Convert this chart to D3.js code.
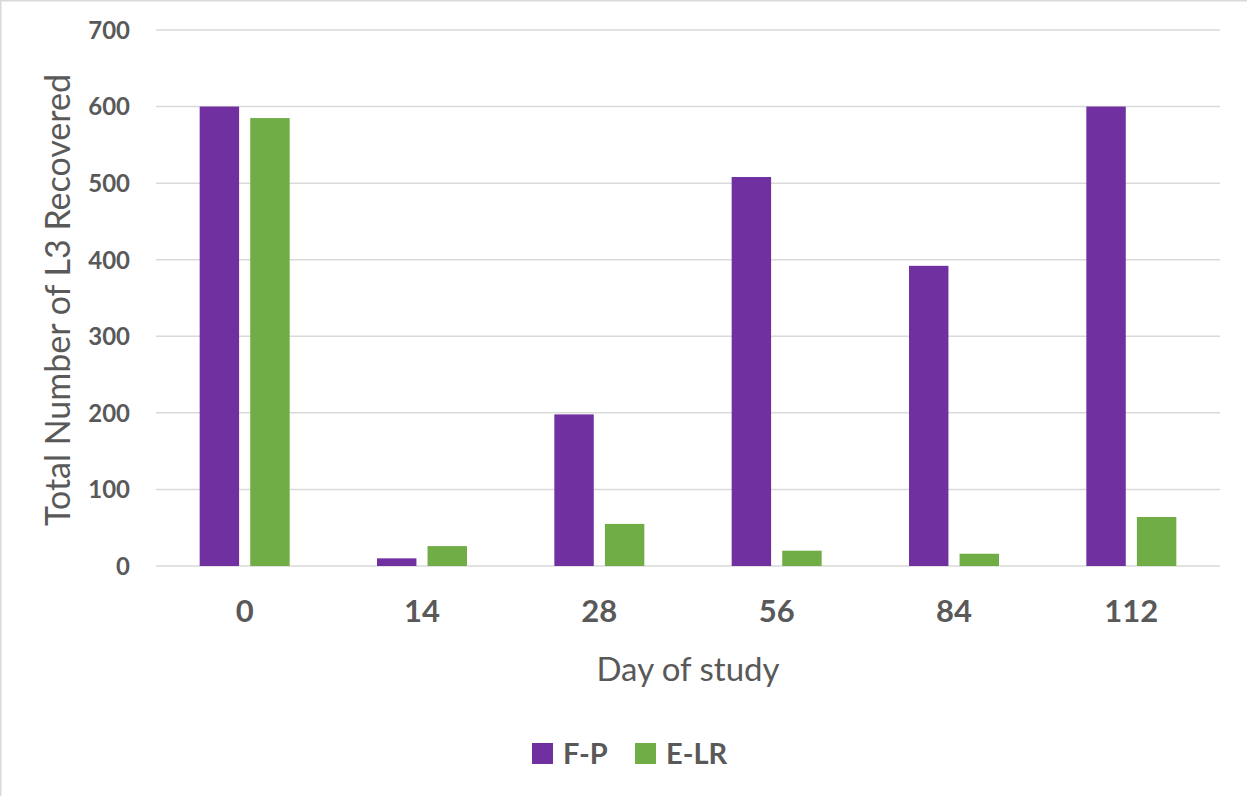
<!DOCTYPE html>
<html><head><meta charset="utf-8">
<script src="https://cdn.jsdelivr.net/npm/d3@7"></script>
<style>body{margin:0;background:#fff}svg{display:block}</style>
</head><body><svg id="c" width="1247" height="796"></svg>
<script>
const categories = ["0","14","28","56","84","112"];
const seriesNames = ["F-P","E-LR"];
const fpValues = [600, 10, 198, 508, 392, 600];
const elrValues = [585, 26, 55, 20, 16, 64];
const yTicks = [0,100,200,300,400,500,600,700];
const colors = ["#7030A0","#70AD47"];
const textColor = "#595959";
const font = "Lato, 'Open Sans', sans-serif";

const svg = d3.select("#c");
svg.append("rect").attr("x",0.75).attr("y",0.75).attr("width",1300).attr("height",900)
  .attr("fill","none").attr("stroke","#d9d9d9").attr("stroke-width",1.5);

const x0 = d3.scaleBand().domain(categories).range([156,1220]).padding(0);
const x1 = d3.scaleBand().domain(seriesNames).range([0,90]).paddingInner(0.22);
const y = d3.scaleLinear().domain([0,700]).range([566,30]);

// gridlines
svg.append("g").selectAll("line").data(yTicks).join("line")
  .attr("x1",156).attr("x2",1220).attr("y1",d=>y(d)).attr("y2",d=>y(d))
  .attr("stroke","#d9d9d9").attr("stroke-width",1.5);

// y axis labels
const yAxis = d3.axisLeft(y).tickValues(yTicks).tickSize(0).tickPadding(0);
const ga = svg.append("g").attr("transform","translate(130,0)").call(yAxis);
ga.select(".domain").remove();
ga.selectAll("text").attr("fill",textColor).style("font-family",font)
  .style("font-size","24px").style("font-weight","bold").attr("dy","0.35em");

// bars
const data = categories.map((c,i)=>({cat:c, vals:[fpValues[i], elrValues[i]]}));
const groups = svg.append("g").selectAll("g").data(data).join("g")
  .attr("transform",d=>`translate(${x0(d.cat)+x0.bandwidth()/2-45},0)`);
groups.selectAll("rect").data(d=>d.vals.map((v,j)=>({s:seriesNames[j],v,j})))
  .join("rect")
  .attr("x",d=>x1(d.s)).attr("width",x1.bandwidth())
  .attr("y",d=>y(d.v)).attr("height",d=>y(0)-y(d.v))
  .attr("fill",d=>colors[d.j]);

// x axis labels
const xAxis = d3.axisBottom(x0).tickSize(0).tickPadding(0);
const gx = svg.append("g").attr("transform","translate(0,600)").call(xAxis);
gx.select(".domain").remove();
gx.selectAll("text").attr("fill",textColor).style("font-family",font)
  .style("font-size","31px").style("font-weight","bold").attr("dy","0.71em");

// axis titles
svg.append("text").attr("x",688).attr("y",681).attr("text-anchor","middle")
  .attr("fill",textColor).style("font-family",font).style("font-size","33px")
  .text("Day of study");
svg.append("text").attr("transform","translate(70,300) rotate(-90)").attr("text-anchor","middle")
  .attr("fill",textColor).style("font-family",font).style("font-size","34px")
  .text("Total Number of L3 Recovered");

// legend
const leg = svg.append("g");
const legX = [532, 635];
seriesNames.forEach((s,i)=>{
  leg.append("rect").attr("x",legX[i]).attr("y",743).attr("width",21).attr("height",21).attr("fill",colors[i]);
  leg.append("text").attr("x",legX[i]+31).attr("y",764).attr("fill",textColor)
    .style("font-family",font).style("font-size","29px").style("font-weight","bold").text(s);
});
</script></body></html>
